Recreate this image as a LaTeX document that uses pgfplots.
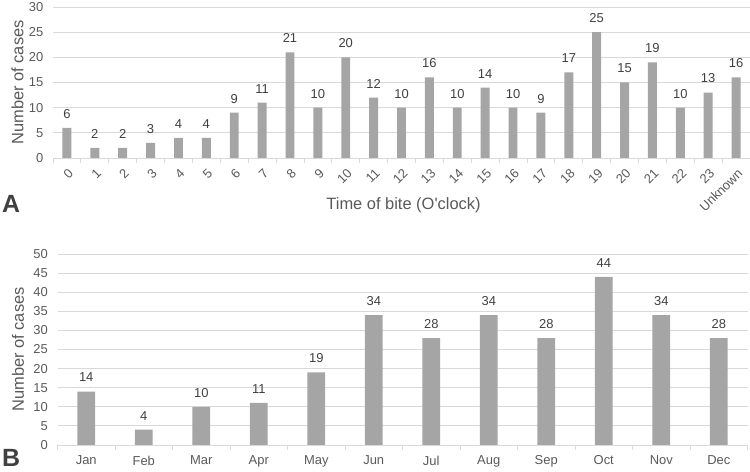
\documentclass[border=0pt]{standalone}
\usepackage{fontspec}
\setmainfont{Liberation Sans}
\usepackage{pgfplots}
\pgfplotsset{compat=1.18}
\definecolor{barc}{HTML}{A5A5A5}
\definecolor{gridc}{HTML}{D9D9D9}
\definecolor{txtc}{HTML}{595959}
\definecolor{numc}{HTML}{404040}
\pgfplotsset{
  common/.style={
    scale only axis, anchor=south west,
    ybar, bar shift=0pt,
    axis x line*=bottom, axis y line*=left,
    y axis line style={draw=none},
    x axis line style={draw=gridc, line width=0.8bp},
    ymajorgrids, grid style={draw=gridc, line width=0.8bp},
    ytick style={draw=none},
    major x tick style={draw=none},
    minor x tick style={draw=gridc, line width=0.8bp},
    tick align=outside, minor tick length=5bp,
    xtick pos=bottom,
    ymin=0,
    tick label style={font=\fontsize{13}{15}\selectfont, text=txtc},
    yticklabel style={xshift=-2bp},
    /pgf/number format/assume math mode=true,
    label style={font=\fontsize{16.5}{19}\selectfont, text=txtc},
    nodes near coords,
    nodes near coords style={font=\fontsize{13}{15}\selectfont, text=numc, yshift=6bp},
  }
}
\begin{document}
\begin{tikzpicture}[x=1bp,y=1bp]
\path[use as bounding box] (0,0) rectangle (750,472);
\begin{axis}[common,
  at={(53bp,314bp)}, width=697bp, height=151bp,
  ymax=30, ytick={0,5,...,30},
  xmin=-0.5, xmax=24.5,
  xtick={0,...,24},
  xticklabels={0,1,2,3,4,5,6,7,8,9,10,11,12,13,14,15,16,17,18,19,20,21,22,23,Unknown},
  minor xtick={-0.5,0.5,...,24.5},
  xticklabel style={rotate=45, anchor=east, xshift=0bp, yshift=-9bp},
  bar width=0.32,
  ylabel={Number of cases},
  ylabel style={at={(axis description cs:-0.051,0.5)}, anchor=center},
]
\addplot[fill=barc, draw=none] coordinates {
(0,6) (1,2) (2,2) (3,3) (4,4) (5,4) (6,9) (7,11) (8,21) (9,10) (10,20) (11,12)
(12,10) (13,16) (14,10) (15,14) (16,10) (17,9) (18,17) (19,25) (20,15) (21,19)
(22,10) (23,13) (24,16)};
\end{axis}
\node[font=\fontsize{16.5}{19}\selectfont, text=txtc] at (403.5,267) {Time of bite (O\textquotesingle clock)};
\node[font=\bfseries\fontsize{25}{29}\selectfont, text=numc] at (11,268) {A};
\begin{axis}[common,
  at={(57.5bp,27bp)}, width=690bp, height=191bp,
  ymax=50, ytick={0,5,...,50},
  xmin=-0.5, xmax=11.5,
  xtick={0,...,11},
  xticklabels={Jan,Feb,Mar,Apr,May,Jun,Jul,Aug,Sep,Oct,Nov,Dec},
  minor xtick={-0.5,0.5,...,11.5},
  xticklabel style={yshift=-3bp},
  bar width=0.31,
  ylabel={Number of cases},
  ylabel style={at={(axis description cs:-0.0572,0.5)}, anchor=center},
]
\addplot[fill=barc, draw=none] coordinates {
(0,14) (1,4) (2,10) (3,11) (4,19) (5,34) (6,28) (7,34) (8,28) (9,44) (10,34) (11,28)};
\end{axis}
\node[font=\bfseries\fontsize{25}{29}\selectfont, text=numc] at (11,14) {B};
\end{tikzpicture}
\end{document}
